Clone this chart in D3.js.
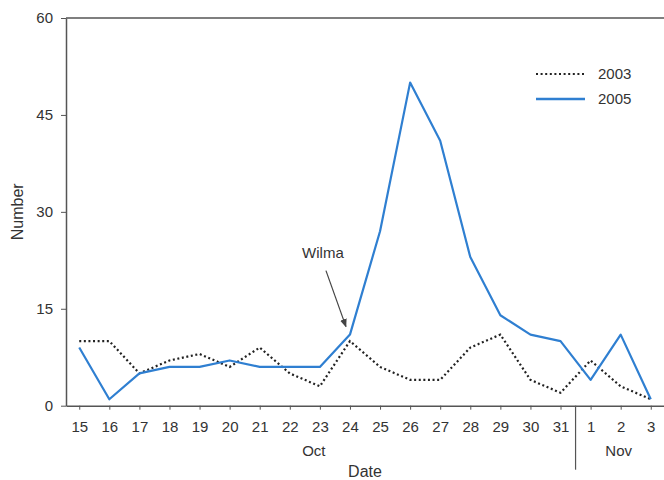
<!DOCTYPE html>
<html>
<head>
<meta charset="utf-8">
<script src="https://cdn.jsdelivr.net/npm/d3@7"></script>
<style>
  body { margin: 0; background: #fff; }
  svg text { font-family: "Liberation Sans", Arial, sans-serif; fill: #333; }
</style>
</head>
<body>
<div id="chart"></div>
<script>
// data
const days = ['15', '16', '17', '18', '19', '20', '21', '22', '23', '24', '25',
  '26', '27', '28', '29', '30', '31', '1', '2', '3'];
const values2003 = [10, 10, 5, 7, 8, 6, 9, 5, 3, 10, 6, 4, 4, 9, 11, 4, 2, 7, 3, 1];
const values2005 = [9, 1, 5, 6, 6, 7, 6, 6, 6, 11, 27, 50, 41, 23, 14, 11, 10, 4, 11, 1];
const yTicks = [0, 15, 30, 45, 60];
const seriesNames = ['2003', '2005'];
const monthNames = ['Oct', 'Nov'];
const monthCenterDays = ['23', '2'];
const annotation = { label: 'Wilma', day: '24', value: 11 };

const width = 664, height = 480;
const margin = { top: 18, right: 0, bottom: 74, left: 66 };
const colors = { '2003': '#222', '2005': '#2f7fd1' };

const svg = d3.select('#chart').append('svg')
  .attr('width', width)
  .attr('height', height);

const x = d3.scalePoint()
  .domain(days.map((d, i) => i))
  .range([margin.left, width - margin.right])
  .padding(0.44);
const y = d3.scaleLinear()
  .domain([0, 60])
  .range([height - margin.bottom - 0.3, margin.top]);

svg.append('defs').append('marker')
  .attr('id', 'arrow')
  .attr('viewBox', '0 0 10 10')
  .attr('refX', 9).attr('refY', 5)
  .attr('markerWidth', 7).attr('markerHeight', 7)
  .attr('orient', 'auto')
  .append('path')
  .attr('d', 'M0,1 L10,5 L0,9 Z')
  .attr('fill', '#444');

// top frame line
svg.append('line')
  .attr('x1', margin.left).attr('x2', width)
  .attr('y1', y(60)).attr('y2', y(60))
  .attr('stroke', '#555').attr('stroke-width', 1.5);

// y axis
const yAxis = svg.append('g')
  .attr('transform', `translate(${margin.left},0)`)
  .call(d3.axisLeft(y).tickValues(yTicks).tickSize(5).tickPadding(8).tickSizeOuter(0));
yAxis.select('.domain').attr('stroke', '#555').attr('stroke-width', 1.5);
yAxis.selectAll('.tick line').attr('stroke', '#555');
yAxis.selectAll('text').style('font-size', '15px').attr('fill', '#333');

// x axis
const xAxis = svg.append('g')
  .attr('transform', `translate(0,${y(0)})`)
  .call(d3.axisBottom(x).tickFormat(i => days[i]).tickSize(4).tickPadding(12).tickSizeOuter(0));
xAxis.select('.domain').attr('stroke', '#555').attr('stroke-width', 1.5);
xAxis.selectAll('.tick line').attr('stroke', '#555');
xAxis.selectAll('text').style('font-size', '15px').attr('fill', '#333');

// month separator and labels
const sepX = (x(days.indexOf('31')) + x(days.lastIndexOf('1'))) / 2;
svg.append('line')
  .attr('x1', sepX).attr('x2', sepX)
  .attr('y1', y(0)).attr('y2', y(0) + 64)
  .attr('stroke', '#555').attr('stroke-width', 1.2);

svg.selectAll('.month')
  .data(monthNames)
  .enter().append('text')
  .attr('class', 'month')
  .attr('x', (d, i) => x(days.lastIndexOf(monthCenterDays[i])) - (i === 0 ? 6 : 2))
  .attr('y', y(0) + 50)
  .attr('text-anchor', 'middle')
  .style('font-size', '15px')
  .text(d => d);

// axis titles
svg.append('text')
  .attr('x', (margin.left + width) / 2)
  .attr('y', y(0) + 71)
  .attr('text-anchor', 'middle')
  .style('font-size', '16px')
  .text('Date');

svg.append('text')
  .attr('transform', `translate(23,${(y(0) + y(60)) / 2}) rotate(-90)`)
  .attr('text-anchor', 'middle')
  .style('font-size', '16px')
  .text('Number');

// lines
const line = d3.line()
  .x((d, i) => x(i))
  .y(d => y(d));

svg.append('path')
  .datum(values2003)
  .attr('d', line)
  .attr('fill', 'none')
  .attr('stroke', colors['2003'])
  .attr('stroke-width', 2.2)
  .attr('stroke-dasharray', '2,2.6');

svg.append('path')
  .datum(values2005)
  .attr('d', line)
  .attr('fill', 'none')
  .attr('stroke', colors['2005'])
  .attr('stroke-width', 2.2)
  .attr('stroke-linejoin', 'round');

// Wilma annotation
const ax = x(days.indexOf(annotation.day)), ay = y(annotation.value);
svg.append('line')
  .attr('x1', ax - 24).attr('y1', ay - 64)
  .attr('x2', ax - 4).attr('y2', ay - 8)
  .attr('stroke', '#444').attr('stroke-width', 1.2)
  .attr('marker-end', 'url(#arrow)');
svg.append('text')
  .attr('x', ax - 27)
  .attr('y', ay - 77)
  .attr('text-anchor', 'middle')
  .style('font-size', '15px')
  .text(annotation.label);

// legend
const legend = svg.selectAll('.legend')
  .data(seriesNames)
  .enter().append('g')
  .attr('class', 'legend')
  .attr('transform', (d, i) => `translate(536,${74 + i * 25})`);
legend.append('line')
  .attr('x1', 0).attr('x2', 49)
  .attr('stroke', d => colors[d])
  .attr('stroke-width', d => d === '2003' ? 2.2 : 2.6)
  .attr('stroke-dasharray', d => d === '2003' ? '2,2.6' : null);
legend.append('text')
  .attr('x', 62)
  .attr('dy', '0.35em')
  .style('font-size', '15px')
  .text(d => d);
</script>
</body>
</html>
